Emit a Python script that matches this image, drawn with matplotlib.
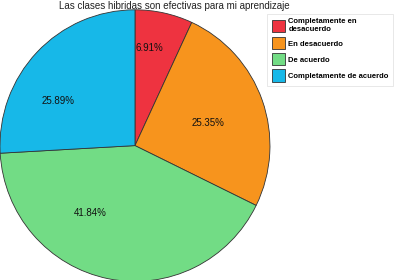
import numpy as np
import matplotlib.pyplot as plt

plt.rcParams['font.family'] = ['Liberation Sans', 'DejaVu Sans']

categories = ["Completamente en\ndesacuerdo", "En desacuerdo", "De acuerdo", "Completamente de acuerdo"]
values = [6.91, 25.35, 41.84, 25.89]
colors = ["#EE3340", "#F7941D", "#72DC85", "#17B8E8"]
title = "Las clases hibridas son efectivas para mi aprendizaje"

fig = plt.figure(figsize=(3.97, 2.8), dpi=100)
ax = fig.add_axes([0.0, -0.005, 0.68, 0.97])

wedges, texts, autotexts = ax.pie(values, colors=colors, startangle=90, counterclock=False,
                                  autopct="%.2f%%", pctdistance=0.6,
                                  wedgeprops=dict(edgecolor="#333333", linewidth=0.6),
                                  textprops=dict(fontsize=7, color="#111111"))
# label placement as in the original
label_pos = [(0.11, 0.72), (0.54, 0.17), (-0.33, -0.50), (-0.57, 0.33)]
for t, p in zip(autotexts, label_pos):
    t.set_position(p)
ax.set_aspect("auto")
ax.set_xlim(-1, 1)
ax.set_ylim(-1, 1)

fig.text(0.44, 0.995, title, ha="center", va="top", fontsize=7, color="#222222")

leg = fig.legend(wedges, categories, loc="upper left", bbox_to_anchor=(0.663, 0.965),
                 prop=dict(weight="bold", size=5.5), frameon=True,
                 handlelength=1.7, handleheight=2.1, handletextpad=0.5,
                 labelspacing=0.5, borderpad=0.6, fancybox=False)
leg.get_frame().set_edgecolor("#dddddd")
leg.get_frame().set_linewidth(0.6)

fig.savefig("out.png", dpi=100)
